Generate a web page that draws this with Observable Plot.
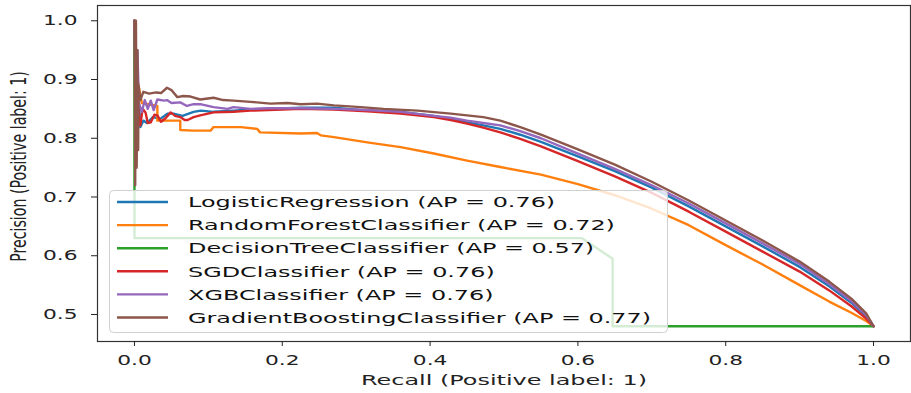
<!DOCTYPE html>
<html><head><meta charset="utf-8">
<script src="https://cdn.jsdelivr.net/npm/d3@7"></script>
<script src="https://cdn.jsdelivr.net/npm/@observablehq/plot@0.6"></script>
<style>html,body{margin:0;padding:0;background:#fff;} #chart{width:911px;height:393px;overflow:hidden}</style>
</head><body><div id="chart"></div>
<script>
const modelNames = ["LogisticRegression","RandomForestClassifier","DecisionTreeClassifier","SGDClassifier","XGBClassifier","GradientBoostingClassifier"];
const apScores = [0.76, 0.72, 0.57, 0.76, 0.76, 0.77];
const modelColors = ["#1f77b4","#ff7f0e","#2ca02c","#d62728","#9467bd","#8c564b"];
const xTicks = [0, 0.2, 0.4, 0.6, 0.8, 1.0];
const yTicks = [0.5, 0.6, 0.7, 0.8, 0.9, 1.0];
const xLabel = "Recall (Positive label: 1)";
const yLabel = "Precision (Positive label: 1)";

// [recall, precision]
const logisticRegression = [[0,1.0],[0.001,0.86],[0.002,0.93],[0.003,0.82],[0.005,0.88],[0.008,0.819],[0.012,0.83],[0.017,0.826],[0.025,0.836],[0.035,0.833],[0.045,0.842],[0.053,0.842],[0.065,0.838],[0.08,0.845],[0.09,0.847],[0.107,0.845],[0.134,0.847],[0.157,0.849],[0.18,0.850],[0.207,0.851],[0.225,0.852],[0.27,0.852],[0.315,0.847],[0.36,0.845],[0.405,0.838],[0.428,0.833],[0.45,0.827],[0.472,0.822],[0.495,0.816],[0.522,0.806],[0.55,0.794],[0.60,0.769],[0.65,0.744],[0.70,0.716],[0.75,0.684],[0.80,0.650],[0.85,0.616],[0.90,0.581],[0.94,0.548],[0.97,0.520],[0.99,0.497],[1.0,0.48]];
const randomForest = [[0,1.0],[0.002,0.87],[0.004,0.9],[0.01,0.86],[0.031,0.855],[0.031,0.830],[0.062,0.830],[0.062,0.814],[0.08,0.813],[0.103,0.813],[0.107,0.819],[0.144,0.819],[0.166,0.816],[0.17,0.810],[0.225,0.808],[0.247,0.809],[0.252,0.805],[0.27,0.802],[0.315,0.793],[0.36,0.785],[0.405,0.774],[0.45,0.762],[0.495,0.751],[0.55,0.738],[0.60,0.722],[0.65,0.703],[0.70,0.680],[0.75,0.652],[0.80,0.618],[0.85,0.585],[0.90,0.550],[0.94,0.522],[0.97,0.503],[0.99,0.489],[1.0,0.48]];
const decisionTree = [[0,1.0],[0,0.630],[0.605,0.630],[0.647,0.595],[0.647,0.48],[1.0,0.48]];
const sgdClassifier = [[0,1.0],[0.002,0.95],[0.003,0.84],[0.004,0.90],[0.006,0.83],[0.008,0.822],[0.011,0.85],[0.015,0.844],[0.018,0.826],[0.022,0.827],[0.027,0.84],[0.031,0.839],[0.036,0.828],[0.042,0.834],[0.049,0.844],[0.055,0.838],[0.062,0.836],[0.068,0.831],[0.072,0.831],[0.08,0.836],[0.089,0.839],[0.107,0.844],[0.134,0.845],[0.157,0.847],[0.2,0.849],[0.225,0.850],[0.27,0.849],[0.315,0.846],[0.36,0.842],[0.405,0.836],[0.428,0.831],[0.45,0.825],[0.472,0.818],[0.495,0.810],[0.522,0.799],[0.55,0.786],[0.60,0.761],[0.65,0.735],[0.70,0.707],[0.75,0.675],[0.80,0.641],[0.85,0.607],[0.90,0.573],[0.94,0.541],[0.97,0.514],[0.99,0.493],[1.0,0.48]];
const xgbClassifier = [[0,1.0],[0.002,0.88],[0.004,0.95],[0.006,0.86],[0.01,0.845],[0.014,0.865],[0.018,0.85],[0.022,0.864],[0.026,0.848],[0.031,0.866],[0.04,0.864],[0.044,0.865],[0.05,0.860],[0.062,0.861],[0.071,0.855],[0.08,0.858],[0.089,0.858],[0.107,0.853],[0.126,0.850],[0.134,0.853],[0.157,0.850],[0.18,0.851],[0.225,0.851],[0.27,0.850],[0.315,0.848],[0.36,0.845],[0.405,0.838],[0.428,0.835],[0.45,0.830],[0.472,0.826],[0.495,0.822],[0.522,0.812],[0.55,0.800],[0.60,0.774],[0.65,0.748],[0.70,0.720],[0.75,0.689],[0.80,0.655],[0.85,0.621],[0.90,0.586],[0.94,0.552],[0.97,0.523],[0.99,0.499],[1.0,0.48]];
const gradientBoosting = [[0,1.0],[0.001,0.72],[0.002,1.0],[0.003,0.75],[0.004,0.95],[0.005,0.78],[0.0055,0.89],[0.008,0.865],[0.012,0.879],[0.02,0.876],[0.029,0.878],[0.036,0.877],[0.044,0.886],[0.05,0.882],[0.058,0.870],[0.066,0.872],[0.076,0.871],[0.089,0.866],[0.107,0.869],[0.12,0.865],[0.134,0.864],[0.157,0.862],[0.184,0.859],[0.207,0.860],[0.225,0.858],[0.247,0.859],[0.27,0.856],[0.306,0.853],[0.337,0.850],[0.383,0.847],[0.428,0.842],[0.45,0.839],[0.472,0.836],[0.495,0.830],[0.522,0.819],[0.55,0.806],[0.60,0.781],[0.65,0.755],[0.70,0.726],[0.75,0.694],[0.80,0.660],[0.85,0.626],[0.90,0.590],[0.94,0.556],[0.97,0.527],[0.99,0.502],[1.0,0.48]];

const curves = [logisticRegression, randomForest, decisionTree, sgdClassifier, xgbClassifier, gradientBoosting];

const chart = Plot.plot({
  width: 911, height: 393,
  marginLeft: 97, marginRight: 1, marginTop: 5, marginBottom: 52,
  x: {domain: [-0.05, 1.05]},
  y: {domain: [0.454, 1.026]},
  style: {fontFamily: "DejaVu Sans", fontSize: "14.5px", color: "#222", background: "#fff"},
  marks: [
    ...curves.map((pts, k) => Plot.line(pts, {x: d => d[0], y: d => d[1], stroke: modelColors[k], strokeWidth: 2.4, strokeLinejoin: "round"})),
    Plot.frame({stroke: "#333", strokeWidth: 1.2}),
    Plot.axisX({ticks: xTicks, tickSize: 5, tickPadding: 8, tickFormat: d => d.toFixed(1), fontSize: 14.5, label: null}),
    Plot.axisY({ticks: yTicks, tickSize: 6, tickPadding: 14, tickFormat: d => d.toFixed(1), fontSize: 14.5, label: null}),
    Plot.text([xLabel], {frameAnchor: "bottom", dy: 39, text: d => d, textAnchor: "middle", lineAnchor: "middle", fontSize: 14.5}),
    Plot.text([yLabel], {frameAnchor: "left", dx: -78, dy: -7, rotate: -90, text: d => d, textAnchor: "middle", lineAnchor: "middle", fontSize: 14.2})
  ]
});

function stretchText(t, s) {
  let tr = t.getAttribute("transform") || "";
  ["x", "y"].forEach(a => {
    const v = t.getAttribute(a);
    if (v != null && /^-?[\d.]+$/.test(v.trim())) {
      tr = (a === "x" ? `translate(${v},0) ` : `translate(0,${v}) `) + tr;
      t.removeAttribute(a);
    }
  });
  if (tr.includes("rotate(")) tr = tr.replace("rotate(", `scale(${s},1) rotate(`);
  else tr += ` scale(${s},1)`;
  t.setAttribute("transform", tr.trim());
}
chart.querySelectorAll('g[aria-label="x-axis tick label"] text').forEach(t => stretchText(t, 1.5));
chart.querySelectorAll('g[aria-label="y-axis tick label"] text').forEach(t => stretchText(t, 1.5));
chart.querySelectorAll("text").forEach(t => {
  if (t.textContent === xLabel) stretchText(t, 1.65);
  if (t.textContent === yLabel) stretchText(t, 1.45);
});

// legend (matplotlib style, semi-transparent box over the curves)
const svg = d3.select(chart);
const lg = svg.append("g").attr("aria-label", "legend").attr("font-family", "DejaVu Sans").attr("font-size", 14.5).attr("text-anchor", "start");
lg.append("rect").attr("x", 109.5).attr("y", 190.5).attr("width", 558).attr("height", 142).attr("rx", 4)
  .attr("fill", "#fff").attr("fill-opacity", 0.8).attr("stroke", "#d0d0d0");
modelNames.forEach((name, i) => {
  const yy = 202 + i * 23.1;
  lg.append("line").attr("x1", 117).attr("x2", 168).attr("y1", yy).attr("y2", yy)
    .attr("stroke", modelColors[i]).attr("stroke-width", 2.4);
  lg.append("text").attr("transform", `translate(188,${yy}) scale(1.65,1)`).attr("dy", "0.36em")
    .attr("text-anchor", "start").attr("fill", "#111").text(`${name} (AP = ${apScores[i].toFixed(2)})`);
});

document.getElementById("chart").appendChild(chart);
</script>
</body></html>
